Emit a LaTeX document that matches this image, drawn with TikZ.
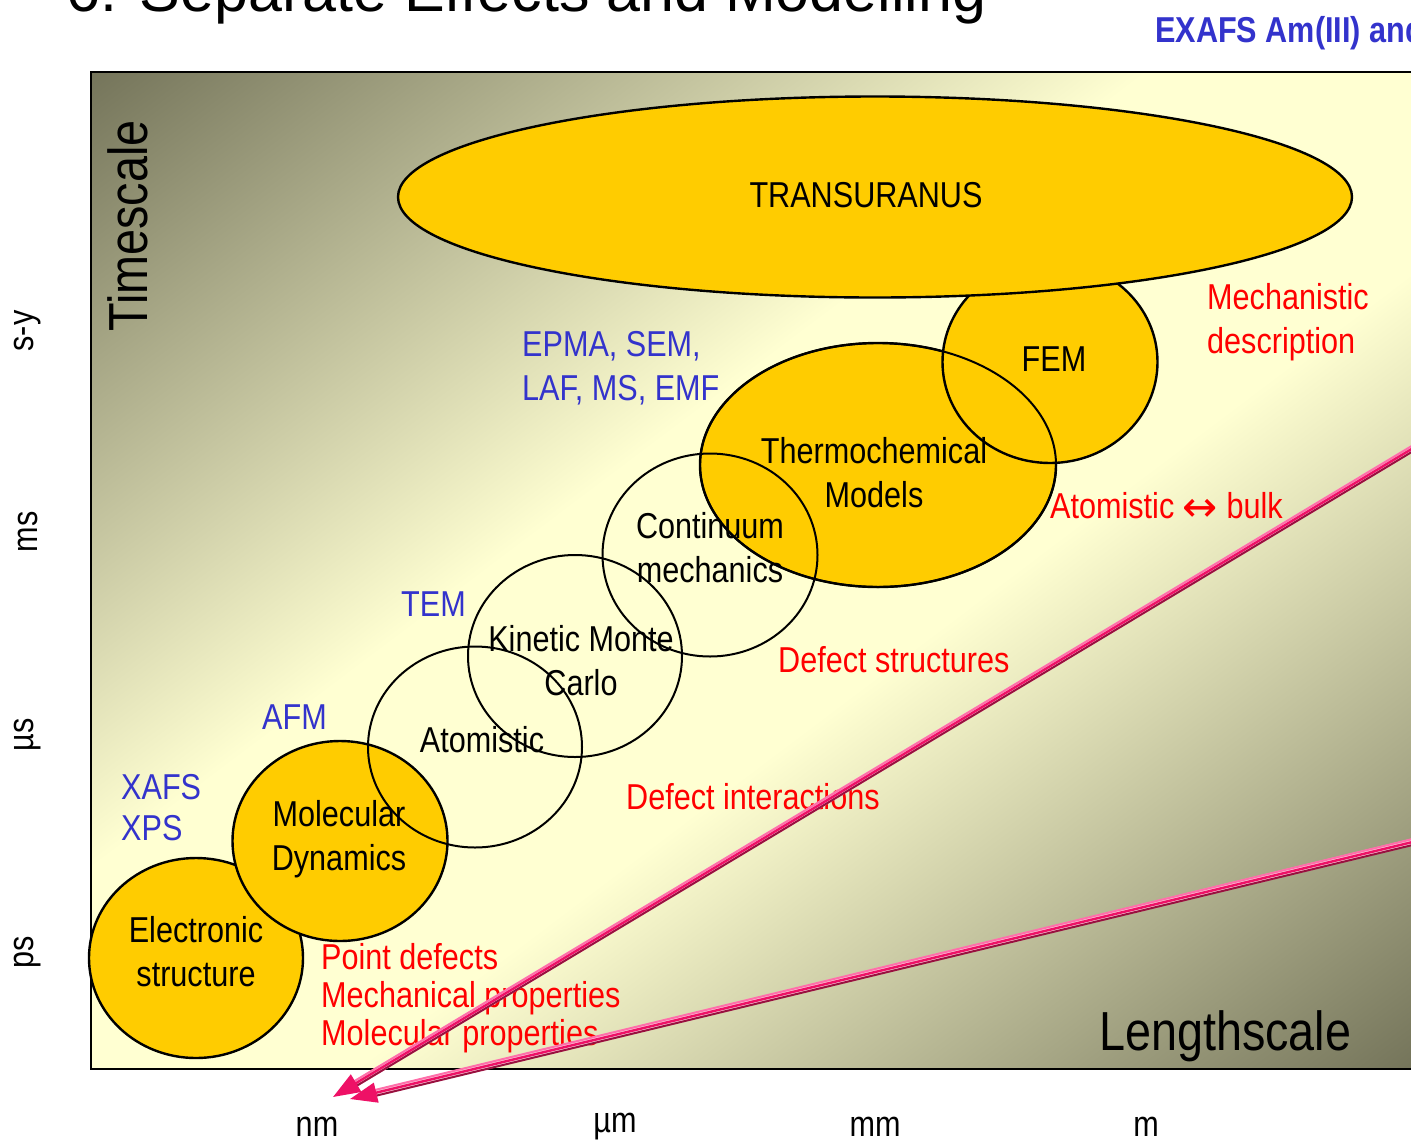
\documentclass[tikz,border=0pt]{standalone}
\usepackage{fontspec}
\setmainfont{Liberation Sans}
\newfontfamily\narrow{Liberation Sans}[FakeStretch=0.85]
\newfontfamily\arrowfont{DejaVu Sans}
\usetikzlibrary{shapes.geometric,arrows.meta}
\definecolor{bgdark}{HTML}{74745A}
\definecolor{bglight}{HTML}{FFFFD2}
\definecolor{goldfill}{HTML}{FFCC00}
\definecolor{labred}{HTML}{FF0000}
\definecolor{labblue}{HTML}{3333CC}
\definecolor{pinkA}{HTML}{FF6EAA}
\definecolor{pinkB}{HTML}{EE1166}
\definecolor{pinkC}{HTML}{99103F}
\definecolor{pinkPale}{HTML}{F8C8D8}
\pgfdeclarehorizontalshading{bgshade}{100bp}{color(0bp)=(bgdark); color(25bp)=(bgdark); color(45bp)=(bglight); color(55bp)=(bglight); color(75bp)=(bgdark); color(100bp)=(bgdark)}
\begin{document}
\begin{tikzpicture}[x=1pt,y=-1pt,
  blob/.style={ellipse, draw=black, fill=goldfill, line width=2.4pt, inner sep=0pt, outer sep=0pt},
  ring/.style={ellipse, draw=black, line width=2pt, inner sep=0pt, outer sep=0pt},
  txt/.style={font=\narrow\fontsize{36}{44}\selectfont, inner sep=0pt, align=center},
  redlbl/.style={txt, text=labred, align=left, anchor=west},
  bluelbl/.style={txt, text=labblue, align=left, anchor=west},
  axlbl/.style={font=\narrow\fontsize{36}{44}\selectfont, inner sep=0pt},
  bigword/.style={font=\narrow\fontsize{55}{60}\selectfont, inner sep=0pt},
  stripePale/.style={pinkPale, line width=7pt, shorten >=22pt},
  stripeTop/.style={pinkA, line width=2pt, shorten >=22pt, transform canvas={yshift=3pt}},
  stripeBot/.style={pinkC, line width=2pt, shorten >=22pt, transform canvas={yshift=-3pt}},
  stripeMid/.style={pinkB, line width=2.4pt, -{Triangle[length=27pt,width=20pt]}}
]
\useasboundingbox (0,0) rectangle (1411,1144);

% background
\begin{scope}
  \clip (91,72) rectangle (1450,1069);
  \shade[shading=bgshade, transform canvas={rotate around={-53:(751,570.5)}}]
    (-45,-330) rectangle (1547,1471);
\end{scope}
\draw[line width=1.5pt] (91,72) rectangle (1450,1069);

% title and header
\node[anchor=base west, inner sep=0pt, font=\fontsize{61}{70}\selectfont] (title) at (66,11) {6. Separate Effects and Modelling};
\node[anchor=base west, inner sep=0pt, text=labblue, font=\narrow\bfseries\fontsize{36}{44}\selectfont] (exafs) at (1155,42) {EXAFS Am(III) and};

% filled ellipses
\node[blob, minimum width=214pt, minimum height=200pt] (es) at (196,958) {};
\node[blob, minimum width=215pt, minimum height=200pt] (md) at (340,841) {};
\node[blob, minimum width=356pt, minimum height=244pt] (tm) at (878,465) {};
\node[blob, minimum width=215pt, minimum height=202pt] (fem) at (1050,362) {};
\draw[line width=2pt] (878,465) ellipse [x radius=178, y radius=122];
\node[blob, minimum width=954pt, minimum height=201pt] (tu) at (875,197) {};

% open circles
\node[ring, minimum width=214pt, minimum height=201pt] (at) at (475,747) {};
\node[ring, minimum width=214pt, minimum height=202pt] (kmc) at (575,656) {};
\node[ring, minimum width=215pt, minimum height=203pt] (cm) at (710,555) {};

% texts in ellipses
\node[txt] (tes) at (196,952) {Electronic\\structure};
\node[txt] (tmd) at (339,839) {Molecular\\Dynamics};
\node[txt] (tat) at (482,740) {Atomistic};
\node[txt] (tkmc) at (581,661) {Kinetic Monte\\Carlo};
\node[txt] (tcm) at (710,548) {Continuum\\mechanics};
\node[txt] (ttm) at (874,473) {Thermochemical\\Models};
\node[txt] (tfem) at (1054,359) {FEM};
\node[txt] (ttu) at (866,195) {TRANSURANUS};

% red labels
\node[redlbl] (mech) at (1207,322) {Mechanistic\\description};
\node[redlbl] (ab) at (1050,507) {Atomistic \raisebox{-3pt}{\arrowfont\fontsize{42}{44}\selectfont ↔} bulk};
\node[redlbl] (ds) at (778,660) {Defect structures};
\node[redlbl] (di) at (626,797) {Defect interactions};
\node[redlbl, font=\narrow\fontsize{36}{38}\selectfont] (pd) at (321,998) {Point defects\\Mechanical properties\\Molecular properties};

% blue labels
\node[bluelbl] (epma) at (522,368) {EPMA, SEM,\\LAF, MS, EMF};
\node[bluelbl] (tem) at (401,604) {TEM};
\node[bluelbl] (afm) at (262,717) {AFM};
\node[bluelbl, font=\narrow\fontsize{36}{41}\selectfont] (xafs) at (121,808) {XAFS\\XPS};

% axes
\node[bigword, rotate=90, anchor=base] (times) at (147,226) {Timescale};
\node[bigword, anchor=base west] (lens) at (1099,1050) {Lengthscale};
\node[axlbl, rotate=90] (ysy) at (28,331) {s-y};
\node[axlbl, rotate=90] (yms) at (28,532) {ms};
\node[axlbl, rotate=90] (yus) at (28,735) {µs};
\node[axlbl, rotate=90] (yps) at (28,952) {ps};
\node[axlbl] (xnm) at (317,1127) {nm};
\node[axlbl] (xum) at (615,1127) {µm};
\node[axlbl] (xmm) at (875,1127) {mm};
\node[axlbl] (xm) at (1146,1127) {m};

% arrows
\coordinate (r1) at (1425,441);
\coordinate (t1) at (333,1097);
\coordinate (r2) at (1425,839);
\coordinate (t2) at (350,1099);
\foreach \s/\t in {r1/t1, r2/t2} {
  \draw[stripePale] (\s) -- (\t);
  \draw[stripeTop] (\s) -- (\t);
  \draw[stripeBot] (\s) -- (\t);
  \draw[stripeMid] (\s) -- (\t);
}
\end{tikzpicture}
\end{document}
